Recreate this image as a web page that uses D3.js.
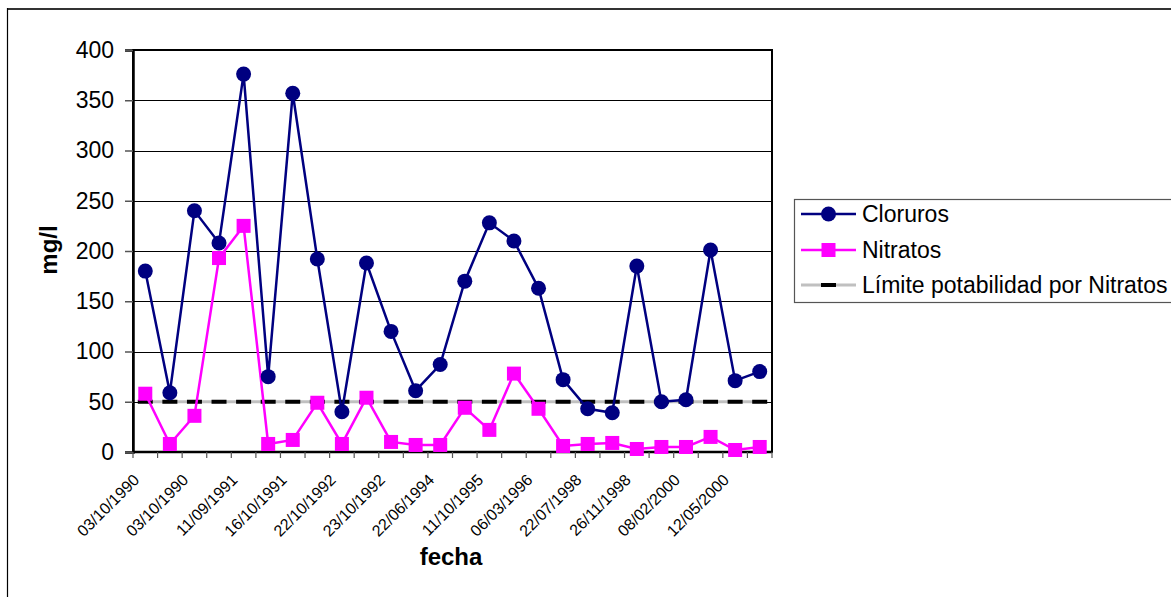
<!DOCTYPE html>
<html>
<head>
<meta charset="utf-8">
<script src="https://cdn.jsdelivr.net/npm/d3@7"></script>
<style>
  html, body { margin: 0; padding: 0; background: #fff; }
  svg { display: block; font-family: Arial, "Liberation Sans", sans-serif; }
</style>
</head>
<body>
<svg id="chart" width="1171" height="597"></svg>
<script>
// Concentraciones (mg/l) por muestra
const cloruros = [180, 59, 240, 208, 376, 75, 357, 192, 40, 188, 120, 61, 87, 170, 228, 210, 163, 72, 43, 39, 185, 50, 52, 201, 71, 80];
const nitratos = [58, 8, 36, 193, 225, 8, 12, 49, 8, 54, 10, 7, 7, 44, 22, 78, 43, 6, 8, 9, 3, 5, 5, 15, 2, 5];
const limiteNitratos = [50, 50, 50, 50, 50, 50, 50, 50, 50, 50, 50, 50, 50, 50, 50, 50, 50, 50, 50, 50, 50, 50, 50, 50, 50, 50];

// Fechas rotuladas (una de cada dos muestras)
const fechas = ["03/10/1990", "03/10/1990", "11/09/1991", "16/10/1991", "22/10/1992", "23/10/1992",
                "22/06/1994", "11/10/1995", "06/03/1996", "22/07/1998", "26/11/1998", "08/02/2000", "12/05/2000"];
const yTicks = [0, 50, 100, 150, 200, 250, 300, 350, 400];

const seriesNames = ["Cloruros", "Nitratos", "Límite potabilidad por Nitratos"];

const svg = d3.select("#chart");
const plot = { left: 133, top: 50, right: 772, bottom: 452 };

const muestras = cloruros.map((_, i) => i);
const x = d3.scaleBand().domain(muestras).range([plot.left, plot.right]);
const cx = i => x(i) + x.bandwidth() / 2;
const y = d3.scaleLinear().domain([0, 400]).range([plot.bottom, plot.top]);

// Marco exterior
svg.append("line").attr("x1", 7).attr("x2", 1171).attr("y1", 9).attr("y2", 9)
  .attr("stroke", "#333").attr("stroke-width", 2);
svg.append("line").attr("x1", 7.5).attr("x2", 7.5).attr("y1", 8).attr("y2", 597)
  .attr("stroke", "#000").attr("stroke-width", 1.2);

// Líneas de cuadrícula
svg.append("g").selectAll("line").data(yTicks.filter(t => t > 0 && t < 400)).join("line")
  .attr("x1", plot.left).attr("x2", plot.right)
  .attr("y1", d => Math.round(y(d)) + 0.5).attr("y2", d => Math.round(y(d)) + 0.5)
  .attr("stroke", "#000").attr("stroke-width", 1);

// Borde del área de trazado
svg.append("rect").attr("x", plot.left).attr("y", plot.top)
  .attr("width", plot.right - plot.left).attr("height", plot.bottom - plot.top)
  .attr("fill", "none").attr("stroke", "#000").attr("stroke-width", 2);

// Eje Y
const yAxis = svg.append("g").attr("transform", `translate(${plot.left},0)`)
  .call(d3.axisLeft(y).tickValues(yTicks).tickSize(8).tickPadding(11));
yAxis.select(".domain").attr("stroke", "#000").attr("stroke-width", 2.5);
yAxis.selectAll(".tick line").attr("stroke", "#555").attr("stroke-width", 1.5);
yAxis.selectAll(".tick text").attr("font-size", 23).attr("fill", "#000")
  .attr("font-family", "Arial, 'Liberation Sans', sans-serif");

// Eje X: marcas entre categorías
const xAxisG = svg.append("g");
xAxisG.append("line").attr("x1", plot.left).attr("x2", plot.right)
  .attr("y1", plot.bottom).attr("y2", plot.bottom)
  .attr("stroke", "#000").attr("stroke-width", 2.5);
const bounds = muestras.map(i => x(i)).concat([plot.right]);
xAxisG.selectAll("line.tk").data(bounds).join("line").attr("class", "tk")
  .attr("x1", d => d).attr("x2", d => d)
  .attr("y1", plot.bottom).attr("y2", plot.bottom + 6)
  .attr("stroke", "#555").attr("stroke-width", 1.2);
xAxisG.selectAll("text").data(fechas).join("text")
  .attr("transform", (d, j) => `translate(${cx(j * 2) - 9},${plot.bottom + 25}) rotate(-45)`)
  .attr("text-anchor", "end").attr("dy", "0.35em")
  .attr("font-size", 16).attr("fill", "#000")
  .text(d => d);

// Títulos de ejes
svg.append("text").attr("x", 451).attr("y", 565).attr("text-anchor", "middle")
  .attr("font-size", 24).attr("font-weight", "bold").text("fecha");
svg.append("text").attr("transform", "translate(57,250) rotate(-90)")
  .attr("text-anchor", "middle").attr("font-size", 24).attr("font-weight", "bold").text("mg/l");

const line = d3.line().x((d, i) => cx(i)).y(d => y(d));

// Límite de potabilidad (50 mg/l)
svg.append("path").datum(limiteNitratos).attr("d", line)
  .attr("fill", "none").attr("stroke", "#c0c0c0").attr("stroke-width", 3);
svg.append("g").selectAll("rect").data(limiteNitratos).join("rect")
  .attr("x", (d, i) => cx(i) - 7.5).attr("y", d => y(d) - 2)
  .attr("width", 15).attr("height", 4).attr("fill", "#000");

// Nitratos
svg.append("path").datum(nitratos).attr("d", line)
  .attr("fill", "none").attr("stroke", "#ff00ff").attr("stroke-width", 2.5);
svg.append("g").selectAll("rect").data(nitratos).join("rect")
  .attr("x", (d, i) => cx(i) - 7).attr("y", d => y(d) - 7)
  .attr("width", 14).attr("height", 14).attr("fill", "#ff00ff");

// Cloruros
svg.append("path").datum(cloruros).attr("d", line)
  .attr("fill", "none").attr("stroke", "#000080").attr("stroke-width", 2.5);
svg.append("g").selectAll("circle").data(cloruros).join("circle")
  .attr("cx", (d, i) => cx(i)).attr("cy", d => y(d)).attr("r", 7.5).attr("fill", "#000080");

// Leyenda
const lg = svg.append("g");
lg.append("rect").attr("x", 794.5).attr("y", 199.5).attr("width", 390).attr("height", 103)
  .attr("fill", "#fff").attr("stroke", "#555").attr("stroke-width", 1.2);
const rows = [214, 250, 285];
rows.forEach((ry, k) => {
  const g = lg.append("g");
  if (k === 0) {
    g.append("line").attr("x1", 801).attr("x2", 856).attr("y1", ry).attr("y2", ry)
      .attr("stroke", "#000080").attr("stroke-width", 2.5);
    g.append("circle").attr("cx", 828.5).attr("cy", ry).attr("r", 7.5).attr("fill", "#000080");
  } else if (k === 1) {
    g.append("line").attr("x1", 801).attr("x2", 856).attr("y1", ry).attr("y2", ry)
      .attr("stroke", "#ff00ff").attr("stroke-width", 2.5);
    g.append("rect").attr("x", 821.5).attr("y", ry - 7).attr("width", 14).attr("height", 14).attr("fill", "#ff00ff");
  } else {
    g.append("line").attr("x1", 801).attr("x2", 856).attr("y1", ry).attr("y2", ry)
      .attr("stroke", "#c0c0c0").attr("stroke-width", 3);
    g.append("rect").attr("x", 821).attr("y", ry - 2).attr("width", 15).attr("height", 4).attr("fill", "#000");
  }
  g.append("text").attr("x", 862).attr("y", ry).attr("dy", "0.35em")
    .attr("font-size", 23).attr("fill", "#000").text(seriesNames[k]);
});
</script>
</body>
</html>
